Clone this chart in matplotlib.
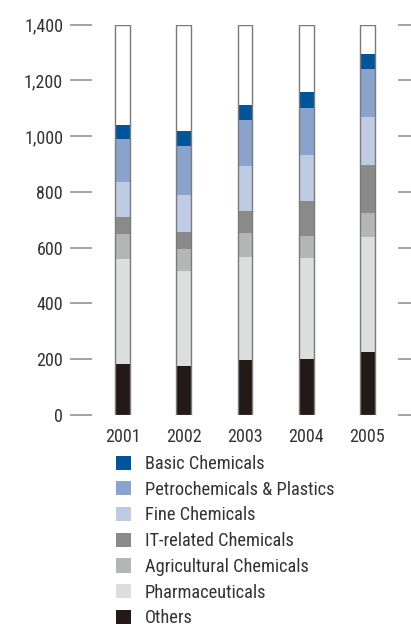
import matplotlib
matplotlib.use("Agg")
import matplotlib.pyplot as plt
from matplotlib.patches import Patch
from matplotlib import font_manager as fm
import numpy as np

# pick a narrow sans font if one is installed, else Liberation Sans
_fonts = [f for f in fm.fontManager.ttflist if f.style == 'normal' and f.weight in (400, 'normal', 'regular')]
_pref = ['Liberation Sans Narrow', 'Arial Narrow', 'Roboto Condensed', 'Noto Sans Condensed',
         'Open Sans Condensed', 'Noto Sans', 'Open Sans', 'Roboto', 'Liberation Sans']
_choice, _stretch = 'Liberation Sans', 'normal'
_found = False
for nm in _pref:
    for f in _fonts:
        if f.name == nm and (f.stretch in ('condensed', 'semi-condensed', 'extra-condensed')
                             or 'Narrow' in nm or 'Condensed' in nm):
            _choice, _stretch, _found = nm, f.stretch, True
            break
    if _found:
        break
plt.rcParams['font.family'] = [_choice, 'DejaVu Sans']
plt.rcParams['font.stretch'] = _stretch

years = ["2001", "2002", "2003", "2004", "2005"]
others = [183, 176, 197, 201, 226]
pharmaceuticals = [377, 341, 370, 363, 413]
agricultural = [91, 79, 86, 79, 86]
it_related = [60, 61, 79, 125, 172]
fine = [125, 133, 162, 165, 173]
petro = [155, 176, 165, 169, 172]
basic = [50, 53, 54, 57, 54]
y_ticks = [0, 200, 400, 600, 800, 1000, 1200, 1400]

series = [
    ("Others", others, "#231916"),
    ("Pharmaceuticals", pharmaceuticals, "#DCDEDD"),
    ("Agricultural Chemicals", agricultural, "#B4B6B5"),
    ("IT-related Chemicals", it_related, "#8A8A8A"),
    ("Fine Chemicals", fine, "#BFCBE3"),
    ("Petrochemicals & Plastics", petro, "#8AA3CC"),
    ("Basic Chemicals", basic, "#00559A"),
]

fig = plt.figure(figsize=(4.11, 6.26), dpi=100)
_r = fig.canvas.get_renderer()

def _fit(s, target_px, cap):
    t = fig.text(0, 0, s, fontsize=10)
    wpx = t.get_window_extent(_r).width
    t.remove()
    return min(cap, 10 * target_px / wpx)

leg_fs = _fit("Petrochemicals & Plastics", 188, 13.8)
tick_fs = _fit("2001", 35, 13.5)

ax = fig.add_axes([92/411, 211/626, 306/411, 390.3/626])

x = np.arange(len(years))
w = 0.24
ymax = y_ticks[-1]
ax.bar(x, [ymax]*len(x), w, color="white", zorder=1)
bottom = np.zeros(len(x))
for name, vals, col in series:
    ax.bar(x, vals, w, bottom=bottom, color=col, label=name, zorder=2, linewidth=0)
    bottom += np.array(vals)
ax.bar(x, [ymax]*len(x), w, facecolor="none", edgecolor="#7a7a7a", linewidth=1.0, zorder=3)

ax.set_xlim(-0.5, 4.5)
ax.set_ylim(0, ymax)
ax.set_yticks(y_ticks)
ax.set_yticklabels([f"{v:,}" for v in y_ticks])
ax.set_xticks(x)
ax.set_xticklabels(years)
for s in ax.spines.values():
    s.set_visible(False)
ax.tick_params(axis='y', which='both', direction='out', length=15.8, width=1.1,
               color="#8a8a8a", pad=5, labelsize=tick_fs, labelcolor="#333333",
               right=True, left=True)
ax.tick_params(axis='x', length=0, pad=9, labelsize=tick_fs, labelcolor="#333333")

handles = [Patch(facecolor=col, edgecolor='none') for _, _, col in series][::-1]
labels = [n for n, _, _ in series][::-1]
fs_px = leg_fs * 100 / 72
hs = 15 / fs_px
fig.legend(handles, labels, loc="upper left", bbox_to_anchor=(116/411, 1 - 455/626),
           frameon=False, fontsize=leg_fs, handlelength=hs, handleheight=hs,
           handletextpad=(145 - 131) / fs_px,
           labelspacing=0.3 + 2.2 / fs_px, borderaxespad=0, borderpad=0,
           labelcolor="#333333")

fig.savefig("out.png", dpi=100)
